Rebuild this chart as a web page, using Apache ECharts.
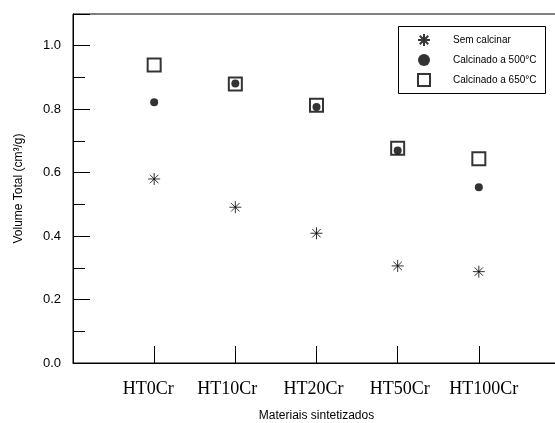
<!DOCTYPE html>
<html>
<head>
<meta charset="utf-8">
<script src="https://cdn.jsdelivr.net/npm/echarts@6/dist/echarts.min.js"></script>
<style>
  html, body { margin: 0; padding: 0; background: #fff; }
  #main { width: 555px; height: 423px; }
</style>
</head>
<body>
<div id="main"></div>
<script>
// categorias no eixo x (posicoes 1..5)
var materiais = ['HT0Cr', 'HT10Cr', 'HT20Cr', 'HT50Cr', 'HT100Cr'];
var semCalcinar = [0.580, 0.491, 0.409, 0.306, 0.288];
var calc500 = [0.822, 0.881, 0.807, 0.670, 0.554];
var calc650 = [0.939, 0.879, 0.812, 0.677, 0.644];
var yLabels = ['0.0', '0.2', '0.4', '0.6', '0.8', '1.0'];

// deslocamento horizontal (px) de cada rotulo do eixo x, como no original
var desloc = [-6, -8, -3, 2, 5];

function pares(arr) {
  return arr.map(function (v, i) { return [i + 1, v]; });
}

var rich = {};
desloc.forEach(function (d, i) {
  rich['m' + i] = {
    fontFamily: 'Liberation Serif, Times New Roman, serif',
    fontSize: 18,
    color: '#000',
    padding: d < 0 ? [0, -2 * d, 0, 0] : [0, 0, 0, 2 * d]
  };
});

var asterisco = 'path://M0,6L12,6M6,0L6,12M1.76,1.76L10.24,10.24M10.24,1.76L1.76,10.24';

var chart = echarts.init(document.getElementById('main'), null, { renderer: 'canvas' });

var option = {
  backgroundColor: '#fff',
  animation: false,
  grid: {
    left: 73,
    top: 14,
    right: -5,
    bottom: 60,
    outerBoundsMode: 'none',
    containLabel: false,
    show: true,
    borderColor: '#000',
    borderWidth: 1
  },
  legend: {
    orient: 'vertical',
    left: 417,
    top: 33,
    itemWidth: 12,
    itemHeight: 12,
    itemGap: 7,
    padding: 0,
    textStyle: { fontFamily: 'Liberation Sans, Arial', fontSize: 10, color: '#000', padding: [0, 0, 0, 18] },
    data: ['Sem calcinar', 'Calcinado a 500°C', 'Calcinado a 650°C']
  },
  graphic: [{
    type: 'rect',
    shape: { x: 398.5, y: 26.5, width: 147, height: 67 },
    style: { fill: 'none', stroke: '#000', lineWidth: 1 },
    z: 5
  }],
  xAxis: {
    type: 'value',
    min: 0,
    max: 6,
    interval: 1,
    name: 'Materiais sintetizados',
    nameLocation: 'middle',
    nameGap: 47,
    nameTextStyle: { fontFamily: 'Liberation Sans, Arial', fontSize: 12, color: '#000' },
    axisLine: { lineStyle: { color: '#000', width: 1 } },
    axisTick: { inside: true, length: 17, lineStyle: { color: '#000' } },
    axisLabel: {
      margin: 17,
      fontFamily: 'Liberation Serif, Times New Roman, serif',
      fontSize: 18,
      color: '#000',
      rich: rich,
      formatter: function (v) {
        var i = v - 1;
        return materiais[i] ? '{m' + i + '|' + materiais[i] + '}' : '';
      }
    },
    splitLine: { show: false }
  },
  yAxis: [{
    type: 'value',
    min: 0,
    max: 1.1,
    interval: 0.2,
    name: 'Volume Total (cm³/g)',
    nameLocation: 'middle',
    nameGap: 48,
    nameTextStyle: { fontFamily: 'Liberation Sans, Arial', fontSize: 12, color: '#000' },
    axisLine: { show: true, lineStyle: { color: '#000', width: 1 } },
    axisTick: { inside: true, length: 17, lineStyle: { color: '#000' } },
    axisLabel: {
      margin: 12,
      fontFamily: 'Liberation Sans, Arial',
      fontSize: 13,
      color: '#000',
      formatter: function (v) {
        var k = Math.round(v * 5);
        return Math.abs(v * 5 - k) < 1e-6 && k <= 5 ? yLabels[k] : '';
      }
    },
    splitLine: { show: false }
  }, {
    type: 'value',
    position: 'left',
    min: 0,
    max: 1.1,
    interval: 0.1,
    axisLine: { show: false },
    axisTick: { inside: true, length: 12, lineStyle: { color: '#000' } },
    axisLabel: { show: false },
    splitLine: { show: false }
  }],
  series: [{
    name: 'Sem calcinar',
    type: 'scatter',
    symbol: asterisco,
    symbolSize: 12,
    itemStyle: { color: '#000', borderColor: '#000', borderWidth: 1 },
    data: pares(semCalcinar),
    z: 3
  }, {
    name: 'Calcinado a 500°C',
    type: 'scatter',
    symbol: 'circle',
    symbolSize: 8,
    itemStyle: { color: '#000' },
    data: pares(calc500),
    z: 4
  }, {
    name: 'Calcinado a 650°C',
    type: 'scatter',
    symbol: 'rect',
    symbolSize: 13,
    itemStyle: { color: 'rgba(0,0,0,0)', borderColor: '#000', borderWidth: 2 },
    data: pares(calc650),
    z: 2
  }]
};

chart.setOption(option);
</script>
</body>
</html>
